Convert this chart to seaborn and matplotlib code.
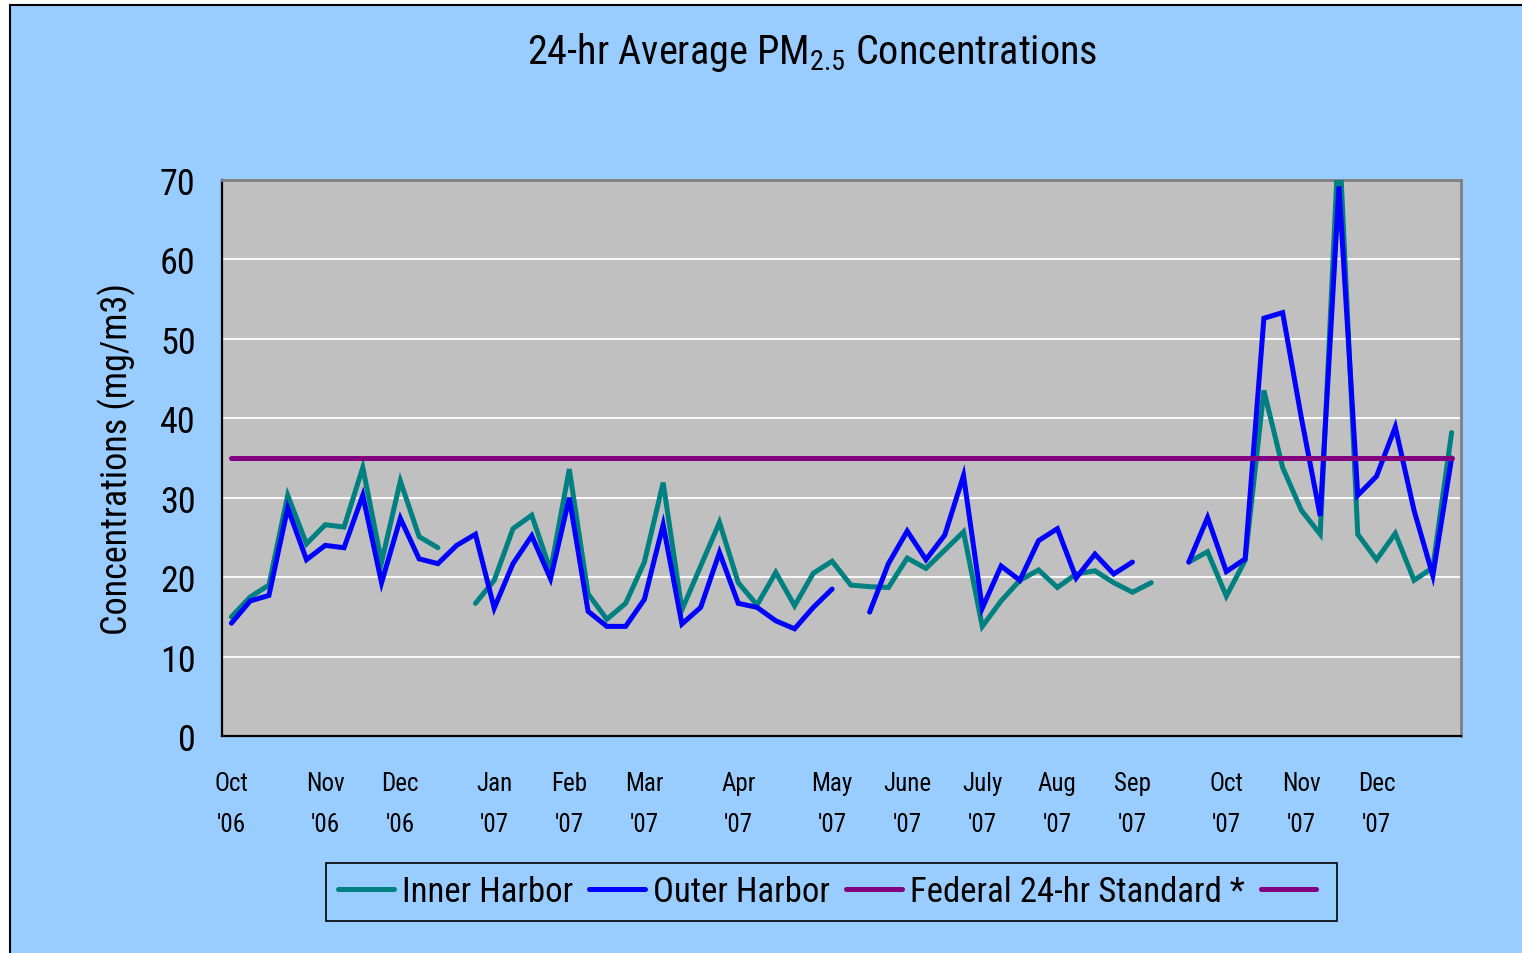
import numpy as np
import pandas as pd
import matplotlib
matplotlib.use("Agg")
import matplotlib.pyplot as plt
from matplotlib.patches import Rectangle
from matplotlib.lines import Line2D
from matplotlib import font_manager
import seaborn as sns

# ---------------- data ----------------
nan = np.nan
categories = ["Oct\n'06", "", "", "", "", "Nov\n'06", "", "", "", "Dec\n'06",
              "", "", "", "", "Jan\n'07", "", "", "", "Feb\n'07", "",
              "", "", "Mar\n'07", "", "", "", "", "Apr\n'07", "", "",
              "", "", "May\n'07", "", "", "", "June\n'07", "", "", "",
              "July\n'07", "", "", "", "Aug\n'07", "", "", "", "Sep\n'07", "",
              "", "", "", "Oct\n'07", "", "", "", "Nov\n'07", "", "",
              "", "Dec\n'07", "", "", "", ""]

inner_harbor = [15.0, 17.5, 19.0, 30.3, 24.2, 26.6, 26.3, 33.8, 21.9, 32.1,
                25.1, 23.7, nan, 16.7, 19.6, 26.1, 27.8, 20.8, 33.6, 17.9,
                14.7, 16.7, 21.9, 31.9, 15.9, 21.4, 26.9, 19.3, 16.5, 20.6,
                16.4, 20.5, 22.0, 19.0, 18.8, 18.7, 22.4, 21.1, 23.4, 25.7,
                13.8, 17.0, 19.6, 20.9, 18.7, 20.4, 20.8, 19.3, 18.1, 19.3,
                nan, 21.9, 23.2, 17.6, 22.1, 43.5, 33.8, 28.4, 25.4, 76.0,
                25.4, 22.2, 25.5, 19.6, 21.2, 38.2]

outer_harbor = [14.2, 17.0, 17.7, 28.7, 22.2, 24.0, 23.7, 30.3, 19.3, 27.4,
                22.3, 21.7, 24.0, 25.4, 16.1, 21.7, 25.2, 19.8, 30.0, 15.7,
                13.8, 13.8, 17.2, 26.6, 14.1, 16.2, 23.1, 16.7, 16.2, 14.5,
                13.5, 16.2, 18.5, nan, 15.6, 21.7, 25.8, 22.2, 25.3, 32.8,
                16.1, 21.4, 19.6, 24.6, 26.1, 19.9, 22.9, 20.4, 21.9, nan,
                nan, 21.9, 27.5, 20.7, 22.3, 52.6, 53.3, 40.0, 27.7, 69.2,
                30.3, 32.7, 38.9, 28.4, 20.2, 35.0]

federal_standard = 35.0

series_names = ["Inner Harbor", "Outer Harbor", "Federal 24-hr Standard *"]
series_colors = ["#008080", "#0000FF", "#800080"]

# ---------------- build long table ----------------
n = len(categories)
rows = []
for name, vals in [(series_names[0], inner_harbor),
                   (series_names[1], outer_harbor),
                   (series_names[2], [federal_standard] * n)]:
    seg = 0
    prev_nan = True
    for i, v in enumerate(vals):
        if np.isnan(v):
            prev_nan = True
            continue
        if prev_nan:
            seg += 1
            prev_nan = False
        rows.append({"series": name, "x": i, "y": v, "unit": f"{name}-{seg}"})
df = pd.DataFrame(rows)

# ---------------- fonts ----------------
available = {f.name for f in font_manager.fontManager.ttflist}
narrow = None
for cand in ["Liberation Sans Narrow", "Roboto Condensed", "Open Sans Condensed",
             "DejaVu Sans Condensed", "Noto Sans Condensed"]:
    if cand in available:
        narrow = cand
        break
condensed_ok = narrow is not None
if narrow is None:
    narrow = "Liberation Sans"

# ---------------- style ----------------
sns.set_style("white")
plt.rcParams["font.family"] = [narrow, "Liberation Sans", "DejaVu Sans"]
plt.rcParams["mathtext.fontset"] = "custom"
plt.rcParams["mathtext.rm"] = narrow
plt.rcParams["mathtext.default"] = "regular"
plt.rcParams["text.color"] = "black"
plt.rcParams["axes.labelcolor"] = "black"
plt.rcParams["xtick.color"] = "black"
plt.rcParams["ytick.color"] = "black"

k = 1.0 if condensed_ok else 0.9

W, H = 1522, 954
fig = plt.figure(figsize=(W / 100, H / 100), dpi=100, facecolor="white")

bg = Rectangle((9.5 / W, -0.05), 1.1, 1 - 5.5 / H + 0.05, transform=fig.transFigure,
               facecolor="#99CCFF", edgecolor="black", linewidth=1.5, zorder=0)
fig.add_artist(bg)

ax = fig.add_axes([222 / W, 1 - 737 / H, (1461 - 222) / W, (737 - 181) / H])
ax.set_facecolor("#C0C0C0")

for z, (name, color) in enumerate(zip(series_names, series_colors)):
    sub = df[df["series"] == name]
    sns.lineplot(data=sub, x="x", y="y", units="unit", estimator=None, sort=False,
                 color=color, linewidth=3.6, legend=False, ax=ax, zorder=3 + z,
                 solid_capstyle="round", solid_joinstyle="miter")

ax.set_xlim(-0.5, n - 0.5)
ax.set_ylim(0, 70)

# gridlines
ax.set_yticks(np.arange(0, 71, 10))
ax.yaxis.grid(True, color="white", linewidth=1.3)
ax.set_axisbelow(True)

# x ticks: labels at category centres, marks at category boundaries
ax.set_xticks(np.arange(n))
ax.set_xticklabels(categories, fontsize=18 * k, linespacing=1.9)
ax.set_xticks(np.arange(n + 1) - 0.5, minor=True)
ax.tick_params(axis="x", which="major", length=0, pad=25, colors="black")
ax.tick_params(axis="x", which="minor", length=6, width=1.2, color="#333333", direction="out")
ax.tick_params(axis="y", which="major", length=9, width=1.2, color="black",
               labelsize=26 * k, pad=10, direction="out")

ax.set_xlabel("")
ax.set_ylabel("Concentrations (mg/m3)", fontsize=26 * k if condensed_ok else 23)
ax.yaxis.set_label_coords(-0.0695, 0.5)

for s in ["left", "bottom"]:
    ax.spines[s].set_color("black")
    ax.spines[s].set_linewidth(1.6)
for s in ["top", "right"]:
    ax.spines[s].set_color("#808080")
    ax.spines[s].set_linewidth(2)
    ax.spines[s].set_visible(True)

# title
fig.text(812 / W, 1 - 53 / H, r"24-hr Average PM$_{2.5}$ Concentrations",
         ha="center", va="center", fontsize=29 if condensed_ok else 25.5)

# legend
handles = [Line2D([], [], color=c, linewidth=3.6, solid_capstyle="round") for c in series_colors]
handles.append(Line2D([], [], color=series_colors[2], linewidth=3.6, solid_capstyle="round"))
labels = series_names + [""]
leg = ax.legend(handles, labels, loc="center", bbox_to_anchor=(831.5 / W, 1 - 893 / H),
                bbox_transform=fig.transFigure, ncol=4,
                fontsize=25 if condensed_ok else 22.5, frameon=True,
                fancybox=False, framealpha=1, facecolor="#99CCFF", edgecolor="black",
                handlelength=1.6, handletextpad=0.25, columnspacing=0.45, borderpad=0.35)
leg.get_frame().set_linewidth(1.2)

fig.savefig("out.png", dpi=100, facecolor="white")
